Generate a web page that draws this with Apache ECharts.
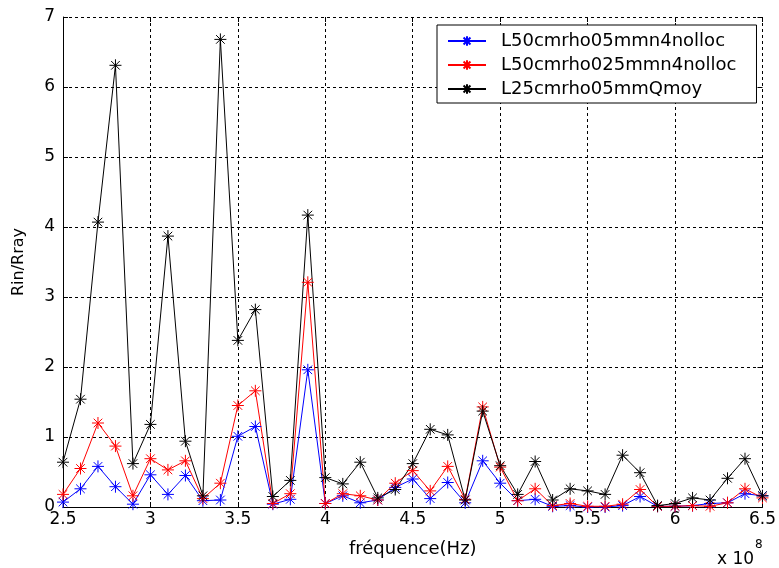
<!DOCTYPE html>
<html>
<head>
<meta charset="utf-8">
<script src="https://cdn.jsdelivr.net/npm/echarts@6/dist/echarts.min.js"></script>
<style>
html,body{margin:0;padding:0;background:#fff;}
#chart{width:779px;height:568px;}
</style>
</head>
<body>
<div id="chart"></div>
<script>
// frequencies in units of 1e8 Hz
var freq = [2.5,2.6,2.7,2.8,2.9,3.0,3.1,3.2,3.3,3.4,3.5,3.6,3.7,3.8,3.9,4.0,4.1,4.2,4.3,4.4,4.5,4.6,4.7,4.8,4.9,5.0,5.1,5.2,5.3,5.4,5.5,5.6,5.7,5.8,5.9,6.0,6.1,6.2,6.3,6.4,6.5];
var seriesNames = ['L50cmrho05mmn4nolloc','L50cmrho025mmn4nolloc','L25cmrho05mmQmoy'];
var blueVals = [0.07,0.26,0.58,0.29,0.04,0.46,0.18,0.45,0.09,0.10,1.01,1.15,0.04,0.11,1.96,0.05,0.16,0.06,0.10,0.28,0.40,0.12,0.35,0.06,0.66,0.34,0.09,0.11,0.01,0.02,0.00,0.00,0.02,0.15,0.01,0.01,0.02,0.05,0.06,0.19,0.16];
var redVals = [0.18,0.55,1.20,0.87,0.16,0.69,0.53,0.66,0.12,0.34,1.45,1.66,0.05,0.19,3.21,0.05,0.19,0.16,0.10,0.34,0.52,0.23,0.58,0.11,1.43,0.57,0.09,0.26,0.02,0.05,0.01,0.01,0.04,0.25,0.01,0.01,0.02,0.01,0.06,0.26,0.13];
var blackVals = [0.64,1.54,4.07,6.31,0.62,1.18,3.87,0.94,0.16,6.68,2.38,2.82,0.15,0.38,4.17,0.42,0.33,0.64,0.13,0.25,0.62,1.11,1.03,0.10,1.37,0.59,0.18,0.65,0.10,0.26,0.23,0.18,0.74,0.49,0.02,0.05,0.13,0.10,0.41,0.69,0.16];
var colors = ['#0000ff','#ff0000','#000000'];
var xMin = 2.5, xMax = 6.5, xInterval = 0.5;
var yMin = 0, yMax = 7, yInterval = 1;

var star = 'path://M0,-6L0,6M-6,0L6,0M-4.3,-4.3L4.3,4.3M-4.3,4.3L4.3,-4.3';
var FONT = 'DejaVu Sans';

function pairs(vals){ return freq.map(function(f,i){ return [f, vals[i]]; }); }
function mkSeries(name, vals, color){
  return {
    name: name, type: 'line', data: pairs(vals),
    xAxisIndex: 0, yAxisIndex: 0,
    symbol: star, symbolSize: 12, showSymbol: true,
    lineStyle: {color: color, width: 1},
    itemStyle: {color: color, borderColor: color, borderWidth: 1},
    emphasis: {disabled: true},
    animation: false
  };
}

var chart = echarts.init(document.getElementById('chart'), null, {renderer: 'canvas'});
var tickStyle = {show: true, inside: true, length: 5, lineStyle: {color: '#000', width: 1}};
chart.setOption({
  backgroundColor: '#fff',
  animation: false,
  grid: {left: 63, top: 17, width: 703, height: 490, containLabel: false},
  legend: {
    show: true,
    data: seriesNames,
    orient: 'vertical',
    left: 437, top: 25,
    padding: [7, 20, 5, 10],
    itemWidth: 38, itemHeight: 12, itemGap: 6,
    borderColor: '#000', borderWidth: 1, backgroundColor: '#fff',
    textStyle: {fontFamily: FONT, fontSize: 18, color: '#000', lineHeight: 18, padding: [0,0,0,10]},
    selectedMode: false
  },
  xAxis: [{
    type: 'value', position: 'bottom', min: xMin, max: xMax, interval: xInterval,
    axisLine: {show: true, onZero: false, lineStyle: {color: '#000', width: 1}},
    axisTick: tickStyle,
    axisLabel: {color: '#000', fontFamily: FONT, fontSize: 17, margin: 4},
    splitLine: {show: true, lineStyle: {color: '#000', width: 1, type: [3,3]}},
    name: 'fréquence(Hz)', nameLocation: 'middle', nameGap: 33,
    nameTextStyle: {color: '#000', fontFamily: FONT, fontSize: 18}
  },{
    type: 'value', position: 'top', min: xMin, max: xMax, interval: xInterval,
    axisLine: {show: false, onZero: false},
    axisTick: tickStyle,
    axisLabel: {show: false},
    splitLine: {show: false}
  }],
  yAxis: [{
    type: 'value', position: 'left', min: yMin, max: yMax, interval: yInterval,
    axisLine: {show: true, onZero: false, lineStyle: {color: '#000', width: 1}},
    axisTick: tickStyle,
    axisLabel: {color: '#000', fontFamily: FONT, fontSize: 17, margin: 8},
    splitLine: {show: true, lineStyle: {color: '#000', width: 1, type: [3,3]}},
    name: 'Rin/Rray', nameLocation: 'middle', nameGap: 36, nameRotate: 90,
    nameTextStyle: {color: '#000', fontFamily: FONT, fontSize: 16}
  },{
    type: 'value', position: 'right', min: yMin, max: yMax, interval: yInterval,
    axisLine: {show: false, onZero: false},
    axisTick: tickStyle,
    axisLabel: {show: false},
    splitLine: {show: false}
  }],
  graphic: [{
    type: 'text', left: 717, top: 539,
    style: {
      text: '{b|x 10}{s|8}',
      rich: {
        b: {fontFamily: FONT, fontSize: 17, fill: '#000', padding: [12,0,0,0]},
        s: {fontFamily: FONT, fontSize: 12, fill: '#000', verticalAlign: 'top', padding: [0,0,12,1]}
      }
    }
  }],
  series: [
    mkSeries(seriesNames[0], blueVals, colors[0]),
    mkSeries(seriesNames[1], redVals, colors[1]),
    mkSeries(seriesNames[2], blackVals, colors[2])
  ]
});
</script>
</body>
</html>
